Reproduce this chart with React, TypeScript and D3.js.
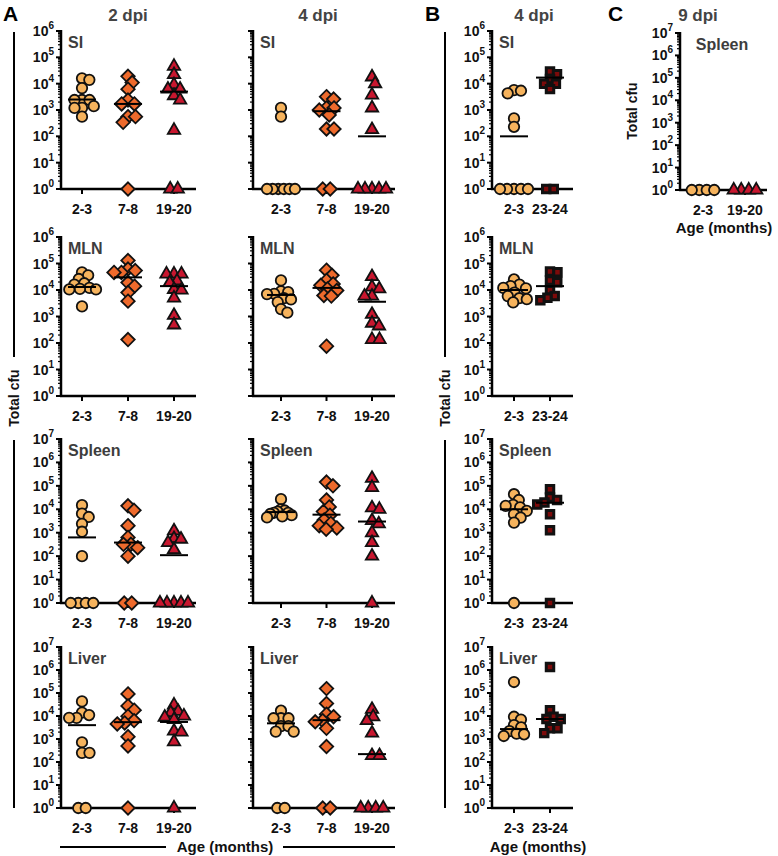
import React, { useEffect, useRef } from 'react';
import * as d3 from 'd3';

type Shape = 'circle' | 'diamond' | 'triangle' | 'square';

const AGES_A = ['2-3', '7-8', '19-20'];
const AGES_B = ['2-3', '23-24'];
const AGES_C = ['2-3', '19-20'];

// total cfu per mouse, one list per age group; 1 = nothing recovered (sits on the 10^0 line)
const SI_2DPI = [
  [1.6e4, 1.4e4, 6.8e3, 2.4e3, 2.4e3, 2.4e3, 1.4e3, 1.2e3, 1.2e3, 5.6e2],
  [1.9e4, 1.1e4, 6.2e3, 2.4e3, 1.7e3, 1.7e3, 5.6e2, 5.6e2, 3.4e2, 1],
  [4.6e4, 2.2e4, 9.1e3, 6.2e3, 6.2e3, 3.5e3, 2.4e3, 1.7e2, 1, 1]
];
const SI_2DPI_MED = [2.5e3, 1.7e3, 5e3];

const SI_4DPI = [
  [1.2e3, 5.6e2, 1, 1, 1, 1, 1, 1],
  [3.2e3, 2.6e3, 1.2e3, 1.2e3, 1.0e3, 6.5e2, 1.9e2, 1.9e2, 1, 1],
  [1.8e4, 1e4, 3.7e3, 1.2e3, 1.8e2, 1, 1, 1, 1, 1]
];
const SI_4DPI_MED = [1, 9e2, 1e2];

const MLN_2DPI = [
  [4.6e4, 3.6e4, 2.6e4, 1.8e4, 1.6e4, 1.2e4, 1.1e4, 1.05e4, 1.05e4, 2.4e3],
  [1.3e5, 6.2e4, 5.4e4, 4.6e4, 4.6e4, 1.9e4, 1.4e4, 8e3, 3.8e3, 1.35e2],
  [4e4, 4e4, 4e4, 2.2e4, 1.9e4, 1.05e4, 1e4, 5e3, 1.1e3, 4.8e2]
];
const MLN_2DPI_MED = [1.3e4, 3e4, 1.4e4];

const MLN_4DPI = [
  [2.3e4, 8.9e3, 8.3e3, 7.2e3, 7e3, 4.9e3, 4.4e3, 3.5e3, 1.9e3, 1.4e3],
  [5.6e4, 3.6e4, 2.3e4, 1.7e4, 1.5e4, 1.1e4, 9.6e3, 6.2e3, 5.9e3, 76],
  [3.2e4, 1.3e4, 1.1e4, 5.9e3, 5.9e3, 1.2e3, 5.6e2, 4.4e2, 1.35e2, 1.35e2]
];
const MLN_4DPI_MED = [6.5e3, 1.2e4, 3.6e3];

const SPLEEN_2DPI = [
  [1.5e4, 6.5e3, 4.7e3, 2.4e3, 1.1e3, 1e2, 1, 1, 1, 1],
  [1.4e4, 9e3, 2e3, 6.3e2, 3.2e2, 3.2e2, 2.3e2, 1e2, 1, 1],
  [1.2e3, 5.6e2, 5.3e2, 3.8e2, 1.9e2, 1, 1, 1, 1, 1]
];
const SPLEEN_2DPI_MED = [6.3e2, 3.8e2, 1.1e2];

const SPLEEN_4DPI = [
  [2.7e4, 1e4, 8.9e3, 7.9e3, 7.1e3, 7.1e3, 6.3e3, 5.6e3, 5e3, 4.5e3],
  [1.45e5, 1e5, 2.5e4, 1.26e4, 8e3, 5.6e3, 3.5e3, 2.5e3, 2e3, 1.6e3, 1.4e3],
  [2.1e5, 8.5e4, 1.15e4, 1e4, 3.3e3, 2.4e3, 1e3, 3.8e2, 1e2, 1]
];
const SPLEEN_4DPI_MED = [7.6e3, 5.9e3, 3e3];

const LIVER_2DPI = [
  [4.3e4, 1.4e4, 1.1e4, 8.3e3, 8.3e3, 7.2e2, 2.5e2, 2.5e2, 1, 1],
  [9.1e4, 2.75e4, 1.8e4, 9.8e3, 6.3e3, 5e3, 4.5e3, 1.26e3, 5e2, 1],
  [3e4, 1.6e4, 1.4e4, 1e4, 8.9e3, 7e3, 2.2e3, 2e3, 7.6e2, 1]
];
const LIVER_2DPI_MED = [4e3, 5.4e3, 5.5e3];

const LIVER_4DPI = [
  [1.7e4, 8e3, 8e3, 8e3, 3.6e3, 3.6e3, 2.1e3, 2.1e3, 1, 1],
  [1.55e5, 3.5e4, 1.2e4, 9.3e3, 6.3e3, 5.6e3, 2.9e3, 4.7e2, 1, 1],
  [1.95e4, 9.3e3, 6.3e3, 1.8e3, 1.9e2, 1.9e2, 1, 1, 1, 1]
];
const LIVER_4DPI_MED = [4.8e3, 6.6e3, 2.2e2];

// panel B, 4 dpi
const SI_B = [
  [5.7e3, 5.4e3, 4.3e3, 4.8e2, 2.3e2, 1, 1, 1, 1, 1],
  [2.9e4, 2.3e4, 1.5e4, 1e4, 1e4, 6.2e3, 1, 1]
];
const SI_B_MED = [1e2, 1.7e4];

const MLN_B = [
  [2.5e4, 1.6e4, 1.4e4, 1.2e4, 1.15e4, 8e3, 5.9e3, 4.9e3, 4.5e3, 3.4e3],
  [5e4, 4.7e4, 2.3e4, 1.95e4, 9.8e3, 5.9e3, 5.1e3, 4.1e3]
];
const MLN_B_MED = [1e4, 1.4e4];

const SPLEEN_B = [
  [4.4e4, 2.5e4, 1.55e4, 1.4e4, 1.2e4, 8.5e3, 6.2e3, 4.4e3, 2.7e3, 1],
  [7.2e4, 3.2e4, 2.5e4, 1.95e4, 1.6e4, 6.2e3, 1.26e3, 1]
];
const SPLEEN_B_MED = [1e4, 1.9e4];

const LIVER_B = [
  [3e5, 9.3e3, 7e3, 4e3, 3.2e3, 2.2e3, 1.7e3, 1.6e3, 1.35e3],
  [1.35e6, 1.8e4, 9.3e3, 7.4e3, 7.4e3, 2.9e3, 2.9e3, 1.8e3]
];
const LIVER_B_MED = [2.7e3, 7.4e3];

// panel C, 9 dpi spleen
const SPLEEN_C = [
  [1, 1, 1, 1],
  [1, 1, 1, 1]
];
const SPLEEN_C_MED = [1, 1];

const FONT = '"Liberation Sans", Arial, Helvetica, sans-serif';
const FILL: Record<Shape, string> = {
  circle: '#f6b35d',
  diamond: '#ee6a2c',
  triangle: '#c8172f',
  square: '#7c0a0a'
};

interface Panel {
  x0: number;
  first: number;
  step: number;
  x1: number;
  top: number;
  bottom: number;
  maxExp: number;
  title: string;
  titleX?: number;
  ages: string[];
  shapes: Shape[];
  values: number[][];
  medians: number[];
  labels: boolean;
}

const ROWS = [
  { top: 31, bottom: 189, maxExp: 6 },
  { top: 237, bottom: 396, maxExp: 6 },
  { top: 439, bottom: 603, maxExp: 7 },
  { top: 647, bottom: 808, maxExp: 7 }
];
const COL_A1 = { x0: 61, first: 82, step: 46, x1: 196 };
const COL_A2 = { x0: 253, first: 281, step: 45.5, x1: 395 };
const COL_B = { x0: 492, first: 514, step: 36, x1: 573 };
const COL_C = { x0: 680, first: 703, step: 42, x1: 767 };

const SHAPES_A: Shape[] = ['circle', 'diamond', 'triangle'];
const SHAPES_B: Shape[] = ['circle', 'square'];
const SHAPES_C: Shape[] = ['circle', 'triangle'];

const TITLES = ['SI', 'MLN', 'Spleen', 'Liver'];
const A2 = [SI_2DPI, MLN_2DPI, SPLEEN_2DPI, LIVER_2DPI];
const A2_MED = [SI_2DPI_MED, MLN_2DPI_MED, SPLEEN_2DPI_MED, LIVER_2DPI_MED];
const A4 = [SI_4DPI, MLN_4DPI, SPLEEN_4DPI, LIVER_4DPI];
const A4_MED = [SI_4DPI_MED, MLN_4DPI_MED, SPLEEN_4DPI_MED, LIVER_4DPI_MED];
const B4 = [SI_B, MLN_B, SPLEEN_B, LIVER_B];
const B4_MED = [SI_B_MED, MLN_B_MED, SPLEEN_B_MED, LIVER_B_MED];

const panels: Panel[] = [];
ROWS.forEach((row, i) => {
  panels.push({ ...COL_A1, ...row, title: TITLES[i], ages: AGES_A, shapes: SHAPES_A, values: A2[i], medians: A2_MED[i], labels: true });
  panels.push({ ...COL_A2, ...row, title: TITLES[i], ages: AGES_A, shapes: SHAPES_A, values: A4[i], medians: A4_MED[i], labels: false });
  panels.push({ ...COL_B, ...row, title: TITLES[i], ages: AGES_B, shapes: SHAPES_B, values: B4[i], medians: B4_MED[i], labels: true });
});
panels.push({
  ...COL_C, top: 33, bottom: 190, maxExp: 7, title: 'Spleen', titleX: 722,
  ages: AGES_C, shapes: SHAPES_C, values: SPLEEN_C, medians: SPLEEN_C_MED, labels: true
});

// simple beeswarm: smallest offset keeping distance D, then squeezed into +-W
function swarm(vals: number[], ys: number[], D: number, W: number): number[] {
  const order = ys.map((_, i) => i).sort((a, b) => ys[a] - ys[b]);
  const placed: { x: number; y: number }[] = [];
  const out = new Array(ys.length).fill(0);
  for (const i of order) {
    const y = ys[i];
    const near = placed.filter((p) => Math.abs(p.y - y) < D);
    const cands = [0];
    near.forEach((p) => {
      const w = Math.sqrt(D * D - (p.y - y) ** 2);
      cands.push(p.x - w, p.x + w);
    });
    cands.sort((a, b) => Math.abs(a) - Math.abs(b) || b - a);
    const ok = cands.find((c) => near.every((p) => (c - p.x) ** 2 + (y - p.y) ** 2 >= D * D - 1e-6));
    out[i] = ok ?? 0;
    placed.push({ x: out[i], y });
  }
  // centre the row of undetected points
  const zero = vals.map((_, i) => i).filter((i) => vals[i] <= 1);
  if (zero.length > 1) {
    const m = d3.mean(zero, (i) => out[i]) || 0;
    zero.forEach((i) => (out[i] -= m));
  }
  const maxAbs = d3.max(out, (v) => Math.abs(v)) || 0;
  const k = maxAbs > W ? W / maxAbs : 1;
  return out.map((v) => v * k);
}

const symbolFor = (s: Shape) => {
  if (s === 'circle') return d3.symbol().type(d3.symbolCircle).size(86)();
  if (s === 'diamond') return d3.symbol().type((d3 as any).symbolDiamond2 ?? d3.symbolDiamond).size(115)();
  if (s === 'triangle') return d3.symbol().type(d3.symbolTriangle).size(66)();
  return d3.symbol().type(d3.symbolSquare).size(56)();
};

const App: React.FC = () => {
  const svgRef = useRef<SVGSVGElement>(null);

  useEffect(() => {
    if (!svgRef.current) return;
    const svg = d3.select(svgRef.current);
    svg.selectAll('*').remove();
    svg.append('rect').attr('width', 778).attr('height', 856).attr('fill', '#fff');

    panels.forEach((p) => {
      const g = svg.append('g');
      const y = d3.scaleLog().domain([1, 10 ** p.maxExp]).range([p.bottom, p.top]);
      const x = d3
        .scalePoint<string>()
        .domain(p.ages)
        .range([p.first, p.first + p.step * (p.ages.length - 1)]);

      // y axis with decade and minor ticks
      for (let e = 0; e < p.maxExp; e++) {
        for (let k = 2; k <= 9; k++) {
          const ty = y(k * 10 ** e);
          g.append('line').attr('x1', p.x0 - 3).attr('x2', p.x0).attr('y1', ty).attr('y2', ty)
            .attr('stroke', '#000').attr('stroke-width', 1.2);
        }
      }
      for (let e = 0; e <= p.maxExp; e++) {
        const ty = y(10 ** e);
        g.append('line').attr('x1', p.x0 - 5).attr('x2', p.x0).attr('y1', ty).attr('y2', ty)
          .attr('stroke', '#000').attr('stroke-width', 2);
        if (p.labels) {
          const t = g.append('text')
            .attr('x', p.x0 - 7).attr('y', ty + 5)
            .attr('text-anchor', 'end')
            .attr('font-family', FONT).attr('font-weight', 700).attr('font-size', 14)
            .attr('fill', '#111');
          t.append('tspan').text('10');
          t.append('tspan').attr('dy', -7).attr('font-size', 10).text(String(e));
        }
      }
      g.append('line').attr('x1', p.x0).attr('x2', p.x0).attr('y1', p.top - 1).attr('y2', p.bottom + 1)
        .attr('stroke', '#000').attr('stroke-width', 2.5);
      g.append('line').attr('x1', p.x0 - 1).attr('x2', p.x1).attr('y1', p.bottom).attr('y2', p.bottom)
        .attr('stroke', '#000').attr('stroke-width', 2.5);

      p.ages.forEach((a) => {
        const cx = x(a) as number;
        g.append('line').attr('x1', cx).attr('x2', cx).attr('y1', p.bottom).attr('y2', p.bottom + 5)
          .attr('stroke', '#000').attr('stroke-width', 2);
        g.append('text').attr('x', cx).attr('y', p.bottom + 25)
          .attr('text-anchor', 'middle')
          .attr('font-family', FONT).attr('font-weight', 700).attr('font-size', 14)
          .attr('fill', '#111').text(a);
      });

      g.append('text')
        .attr('x', p.titleX ?? p.x0 + 7).attr('y', p.top + 17)
        .attr('text-anchor', p.titleX ? 'middle' : 'start')
        .attr('font-family', FONT).attr('font-weight', 700).attr('font-size', 16)
        .attr('fill', '#3d3d3d').text(p.title);

      // points
      p.values.forEach((vals, gi) => {
        const cx = x(p.ages[gi]) as number;
        const ys = vals.map((v) => y(Math.max(v, 1)));
        const dx = swarm(vals, ys, 7.5, 14);
        const shape = p.shapes[gi];
        const path = symbolFor(shape);
        vals.forEach((_, i) => {
          g.append('path')
            .attr('d', path)
            .attr('transform', `translate(${cx + dx[i]},${ys[i]})`)
            .attr('fill', FILL[shape])
            .attr('stroke', '#111')
            .attr('stroke-width', shape === 'square' ? 3 : 1.8)
            .attr('stroke-linejoin', 'miter');
        });
        const med = p.medians[gi];
        if (med > 1) {
          g.append('line')
            .attr('x1', cx - 14).attr('x2', cx + 14)
            .attr('y1', y(med)).attr('y2', y(med))
            .attr('stroke', '#000').attr('stroke-width', 2);
        }
      });
    });

    const label = (txt: string, xx: number, yy: number, size: number, fill = '#111', anchor = 'middle') =>
      svg.append('text').attr('x', xx).attr('y', yy).attr('text-anchor', anchor)
        .attr('font-family', FONT).attr('font-weight', 700).attr('font-size', size)
        .attr('fill', fill).text(txt);

    label('A', 3, 21, 21, '#000', 'start');
    label('B', 425, 21, 21, '#000', 'start');
    label('C', 608, 21, 21, '#000', 'start');
    label('2 dpi', 128, 21, 17, '#444');
    label('4 dpi', 318, 21, 17, '#444');
    label('4 dpi', 534, 21, 17, '#444');
    label('9 dpi', 698, 21, 17, '#444');

    // "Total cfu" brackets
    [14, 445].forEach((lx) => {
      svg.append('line').attr('x1', lx).attr('x2', lx).attr('y1', 32).attr('y2', 357)
        .attr('stroke', '#000').attr('stroke-width', 2);
      svg.append('line').attr('x1', lx).attr('x2', lx).attr('y1', 440).attr('y2', 808)
        .attr('stroke', '#000').attr('stroke-width', 2);
      svg.append('text')
        .attr('transform', `translate(${lx + 5},398) rotate(-90)`)
        .attr('text-anchor', 'middle')
        .attr('font-family', FONT).attr('font-weight', 700).attr('font-size', 14)
        .attr('fill', '#111').text('Total cfu');
    });
    svg.append('text')
      .attr('transform', 'translate(637,111) rotate(-90)')
      .attr('text-anchor', 'middle')
      .attr('font-family', FONT).attr('font-weight', 700).attr('font-size', 14)
      .attr('fill', '#111').text('Total cfu');

    // age axis titles
    svg.append('line').attr('x1', 60).attr('x2', 166).attr('y1', 847).attr('y2', 847)
      .attr('stroke', '#000').attr('stroke-width', 2);
    svg.append('line').attr('x1', 283).attr('x2', 395).attr('y1', 847).attr('y2', 847)
      .attr('stroke', '#000').attr('stroke-width', 2);
    label('Age (months)', 225, 852, 15);
    label('Age (months)', 538, 852, 15);
    label('Age (months)', 724, 233, 15);
  }, []);

  return (
    <svg
      ref={svgRef}
      width={778}
      height={856}
      viewBox="0 0 778 856"
      style={{ position: 'absolute', left: 0, top: 0, display: 'block' }}
    />
  );
};

export default App;
